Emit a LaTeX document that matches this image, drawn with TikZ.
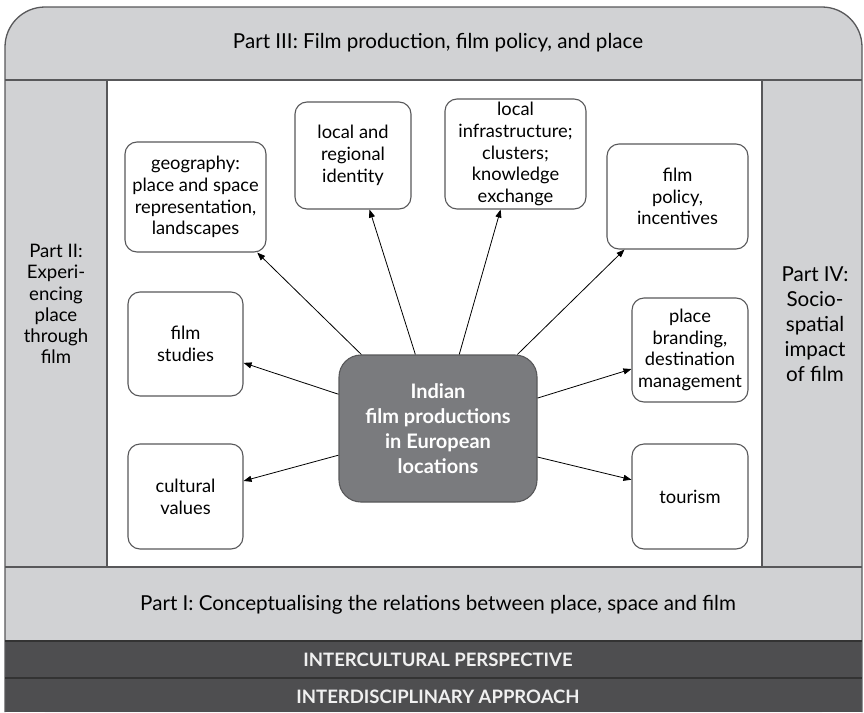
\documentclass[tikz,border=0pt]{standalone}
\usepackage{fontspec}
\setmainfont{Lato}
\usepackage{tikz}
\usetikzlibrary{arrows.meta}

\definecolor{bandgray}{RGB}{209,210,212}
\definecolor{edgegray}{RGB}{88,88,90}
\definecolor{darkband}{RGB}{78,78,80}
\definecolor{hubgray}{RGB}{122,123,126}

\begin{document}
\begin{tikzpicture}[x=1pt, y=-1pt,
		topic/.style={draw=edgegray, line width=1.1pt, fill=white, rounded corners=12pt,
			align=center, inner sep=0pt, font=\fontsize{18.3}{21.7}\selectfont},
		hub/.style={draw=edgegray, line width=1.1pt, fill=hubgray, rounded corners=22pt,
			align=center, inner sep=0pt, text=white, font=\fontsize{20}{25}\selectfont\bfseries,
			minimum width=198pt, minimum height=147pt},
		partlabel/.style={align=center, inner sep=0pt, font=\fontsize{20.6}{25}\selectfont},
		bandlabel/.style={inner sep=0pt, text=white!94!black, font=\fontsize{18.5}{22}\selectfont\bfseries},
		link/.style={-{Triangle[length=8pt, width=6pt]}, line width=0.8pt, black}]
				\useasboundingbox (0,0) rectangle (864,712);

				% Draw the frame with the four parts
				\fill[bandgray, rounded corners=40pt] (5,712) -- (5,7) -- (862,7) -- (862,712) -- cycle;
				\fill[white] (107,80) rectangle (762,567);
				\fill[darkband] (5,641) rectangle (862,712);
				\draw[edgegray, line width=1.3pt, rounded corners=40pt] (5,712) -- (5,7) -- (862,7) -- (862,712);
				\draw[edgegray, line width=1.3pt] (5,80) -- (862,80);
				\draw[edgegray, line width=1.3pt] (5,567) -- (862,567);
				\draw[edgegray, line width=1.3pt] (107,80) -- (107,567);
				\draw[edgegray, line width=1.3pt] (762,80) -- (762,567);
				\draw[black!80, line width=1.3pt] (5,641) -- (862,641);
				\draw[black!80, line width=1.3pt] (5,678) -- (862,678);

				\node[partlabel] (p3) at (438,43) {Part III: Film production, film policy, and place};
				\node[partlabel, font=\fontsize{18.6}{21.3}\selectfont] (p2) at (56,304) {Part II:\\Experi-\\encing\\place\\through\\film};
				\node[partlabel] (p4) at (815,324) {Part IV:\\Socio-\\spatial\\impact\\of film};
				\node[partlabel] (p1) at (438,605) {Part I: Conceptualising the relations between place, space and film};
				\node[bandlabel] (b1) at (438,660) {INTERCULTURAL PERSPECTIVE};
				\node[bandlabel] (b2) at (438,697) {INTERDISCIPLINARY APPROACH};

				% Draw the topic boxes
				\node[topic, minimum width=141pt, minimum height=110pt] (geo) at (195.5,197) {geography:\\place and space\\representation,\\landscapes};
				\node[topic, minimum width=116pt, minimum height=107pt] (ident) at (353,155.5) {local and\\regional\\identity};
				\node[topic, minimum width=141pt, minimum height=110pt] (infra) at (515.5,154) {local\\infrastructure;\\clusters;\\knowledge\\exchange};
				\node[topic, minimum width=141pt, minimum height=105pt] (policy) at (677.5,196.5) {film\\policy,\\incentives};
				\node[topic, minimum width=115pt, minimum height=104pt] (studies) at (185.5,344) {film\\studies};
				\node[topic, minimum width=116pt, minimum height=104pt] (brand) at (690,350) {place\\branding,\\destination\\management};
				\node[topic, minimum width=115pt, minimum height=105pt] (values) at (185.5,496.5) {cultural\\values};
				\node[topic, minimum width=116pt, minimum height=105pt] (tour) at (690,496.5) {tourism};

				\node[hub] (hub) at (438,428.5) {Indian\\film productions\\in European\\locations};

				% Arrows from the hub
				\draw[link] (hub.136.7) -- (geo.-42);
				\draw[link] (hub.107.4) -- (ident.-73);
				\draw[link] (hub.74.8) -- (infra.-105);
				\draw[link] (hub.43.7) -- (policy.-135);
				\draw[link] (hub.161.3) -- (studies.-18.6);
				\draw[link] (hub.195) -- (values.15.5);
				\draw[link] (hub.17.7) -- (brand.198);
				\draw[link] (hub.344.5) -- (tour.164);

			\end{tikzpicture}
\end{document}
